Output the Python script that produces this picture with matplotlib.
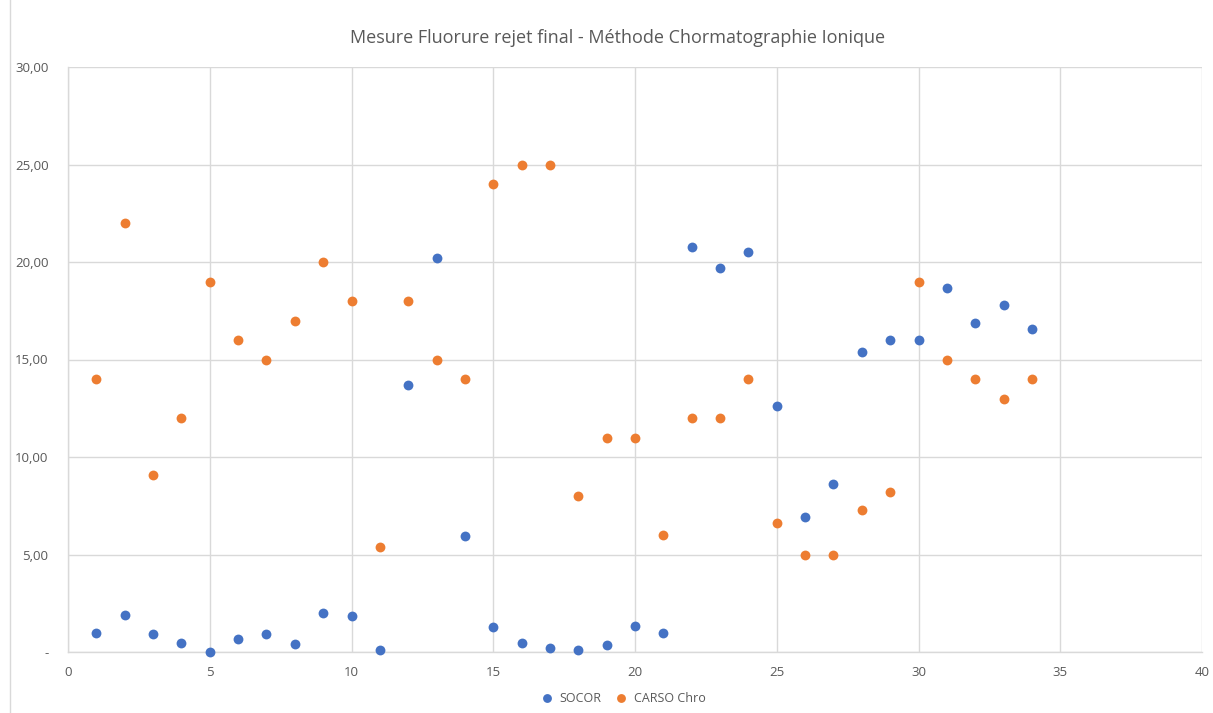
import matplotlib.pyplot as plt
from matplotlib.lines import Line2D

runs = list(range(1, 35))
socor = [0.97, 1.9, 0.92, 0.46, 0.0, 0.67, 0.92, 0.41, 2.0, 1.85,
         0.1, 13.7, 20.2, 5.95, 1.28, 0.46, 0.2, 0.1, 0.36, 1.33,
         0.97, 20.77, 19.7, 20.5, 12.6, 6.9, 8.6, 15.4, 16.0, 16.0,
         18.67, 16.87, 17.8, 16.56]
carso = [14, 22, 9.1, 12, 19, 16, 15, 17, 20, 18,
         5.4, 18, 15, 14, 24, 25, 25, 8, 11, 11,
         6, 12, 12, 14, 6.6, 5, 5, 7.3, 8.2, 19,
         15, 14, 13, 14]
y_ticks = [0, 5, 10, 15, 20, 25, 30]
x_ticks = [0, 5, 10, 15, 20, 25, 30, 35, 40]

plt.rcParams['font.family'] = ['Open Sans', 'DejaVu Sans']
TXT = "#595959"
GRID = "#d9d9d9"


def fmt_y(v):
    return "-" if v == 0 else f"{v:.2f}".replace(".", ",")


def main():
    fig = plt.figure(figsize=(12.13, 7.13), dpi=100)
    ax = fig.add_axes([68 / 1213, 1 - 652 / 713, (1202 - 68) / 1213, (652 - 67) / 713])

    ax.scatter(runs, socor, s=50, color="#4472C4", label="SOCOR", zorder=3,
               clip_on=False, linewidths=0)
    ax.scatter(runs, carso, s=50, color="#ED7D31", label="CARSO Chro", zorder=3,
               clip_on=False, linewidths=0)

    ax.set_xlim(0, 40)
    ax.set_ylim(0, 30)
    ax.set_xticks(x_ticks)
    ax.set_yticks(y_ticks)
    ax.set_yticklabels([fmt_y(v) for v in y_ticks])
    ax.tick_params(length=0, colors=TXT, labelsize=9.5)
    ax.tick_params(axis="y", pad=14)
    ax.tick_params(axis="x", pad=10)
    ax.grid(True, color=GRID, linewidth=1)
    for side in ["top", "right"]:
        ax.spines[side].set_visible(False)
    for side in ["left", "bottom"]:
        ax.spines[side].set_color(GRID)
        ax.spines[side].set_linewidth(1)
    ax.set_axisbelow(True)

    fig.text(618 / 1213, 1 - 38 / 713, "Mesure Fluorure rejet final - Méthode Chormatographie Ionique",
             ha="center", va="center", fontsize=13, color=TXT)

    fig.legend(loc="center", bbox_to_anchor=(620 / 1213, 1 - 698 / 713), ncol=2,
               frameon=False, fontsize=9, labelcolor=TXT, handletextpad=0.0,
               columnspacing=0.6, markerscale=0.9)

    fig.add_artist(Line2D([10 / 1213, 10 / 1213], [0, 1], color=GRID, linewidth=1))

    fig.savefig("out.png", dpi=100)


if __name__ == "__main__":
    main()
